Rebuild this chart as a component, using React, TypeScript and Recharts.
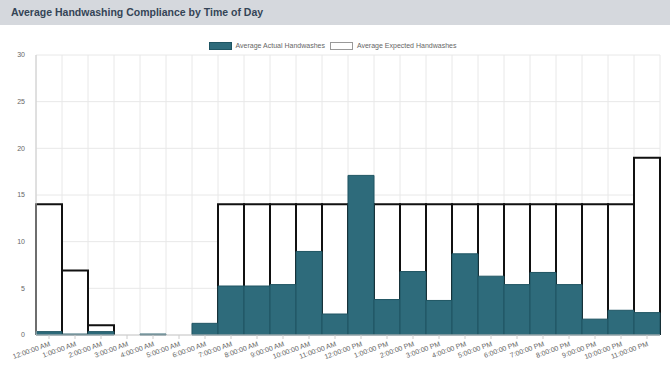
import { BarChart, Bar, XAxis, YAxis, CartesianGrid, Legend } from 'recharts'

const hours = [
  '12:00:00 AM', '1:00:00 AM', '2:00:00 AM', '3:00:00 AM', '4:00:00 AM', '5:00:00 AM',
  '6:00:00 AM', '7:00:00 AM', '8:00:00 AM', '9:00:00 AM', '10:00:00 AM', '11:00:00 AM',
  '12:00:00 PM', '1:00:00 PM', '2:00:00 PM', '3:00:00 PM', '4:00:00 PM', '5:00:00 PM',
  '6:00:00 PM', '7:00:00 PM', '8:00:00 PM', '9:00:00 PM', '10:00:00 PM', '11:00:00 PM',
]

const actualWashes = [
  0.36, 0.1, 0.36, 0, 0.1, 0,
  1.25, 5.25, 5.25, 5.4, 8.95, 2.25,
  17.1, 3.8, 6.8, 3.7, 8.7, 6.3,
  5.4, 6.7, 5.4, 1.7, 2.65, 2.4,
]

const expectedWashes = [
  14, 6.9, 1.05, 0, 0, 0,
  0, 14, 14, 14, 14, 14,
  14, 14, 14, 14, 14, 14,
  14, 14, 14, 14, 14, 19,
]

const yTicks = [0, 5, 10, 15, 20, 25, 30]

const TEAL = '#2e6b7b'
const TEAL_EDGE = '#1f5563'

const chartData = hours.map((time, i) => ({
  time,
  actual: actualWashes[i],
  expected: expectedWashes[i],
}))

// open-bottom outline, like the chart.js borderSkipped look
function ExpectedShape(props: any) {
  const { x, y, width, height } = props
  if (!height || height <= 0) return null
  return (
    <g>
      <rect x={x} y={y} width={width} height={height} fill="#fff" />
      <path
        d={`M${x},${y + height} L${x},${y} L${x + width},${y} L${x + width},${y + height}`}
        fill="none"
        stroke="#111"
        strokeWidth={2}
      />
    </g>
  )
}

function ChartLegend() {
  const item = (label: string, fill: string, border: string) => (
    <span style={{ display: 'inline-flex', alignItems: 'center', marginRight: 5 }}>
      <span
        style={{
          display: 'inline-block',
          width: 21,
          height: 6,
          background: fill,
          border: `1px solid ${border}`,
          marginRight: 4,
        }}
      />
      <span>{label}</span>
    </span>
  )
  return (
    <div
      style={{
        display: 'flex',
        justifyContent: 'center',
        fontSize: 7,
        color: '#666',
        fontFamily: '"Liberation Sans", Arial, sans-serif',
        lineHeight: '10px',
      }}
    >
      {item('Average Actual Handwashes', TEAL, TEAL_EDGE)}
      {item('Average Expected Handwashes', '#fff', '#999')}
    </div>
  )
}

export default function App() {
  return (
    <div
      style={{
        position: 'absolute',
        top: 0,
        left: 0,
        width: 670,
        height: 371,
        background: '#fff',
        fontFamily: '"Liberation Sans", Arial, sans-serif',
      }}
    >
      <div
        style={{
          height: 25,
          background: '#d5d8dd',
          color: '#344456',
          fontWeight: 'bold',
          fontSize: 10.5,
          lineHeight: '25px',
          paddingLeft: 11,
        }}
      >
        Average Handwashing Compliance by Time of Day
      </div>
      <BarChart
        width={670}
        height={346}
        data={chartData}
        barCategoryGap={0}
        margin={{ top: 30, right: 10, left: 0, bottom: 0 }}
      >
        <CartesianGrid
          stroke="#e8e8e8"
          verticalCoordinatesGenerator={(p: any) => {
            const off = p.offset
            return Array.from({ length: hours.length + 1 }, (_, i) => off.left + (i * off.width) / hours.length)
          }}
        />
        <XAxis
          xAxisId="main"
          dataKey="time"
          interval={0}
          height={36}
          axisLine={{ stroke: '#ccc' }}
          tickLine={{ stroke: '#ccc' }}
          tickSize={4}
          tick={{ fontSize: 7, fill: '#666', angle: -20, textAnchor: 'end' }}
        />
        <XAxis xAxisId="overlay" dataKey="time" hide />
        <YAxis
          width={36}
          domain={[0, 30]}
          ticks={yTicks}
          axisLine={{ stroke: '#ccc' }}
          tickLine={false}
          tickMargin={5}
          tick={{ fontSize: 7, fill: '#666' }}
        />
        <Legend
          verticalAlign="middle"
          align="center"
          wrapperStyle={{ top: 16, left: 0, width: 670 }}
          content={() => <ChartLegend />}
        />
        <Bar
          xAxisId="overlay"
          dataKey="expected"
          shape={ExpectedShape}
          isAnimationActive={false}
        />
        <Bar
          xAxisId="main"
          dataKey="actual"
          fill={TEAL}
          stroke={TEAL_EDGE}
          strokeWidth={1}
          isAnimationActive={false}
        />
      </BarChart>
    </div>
  )
}
